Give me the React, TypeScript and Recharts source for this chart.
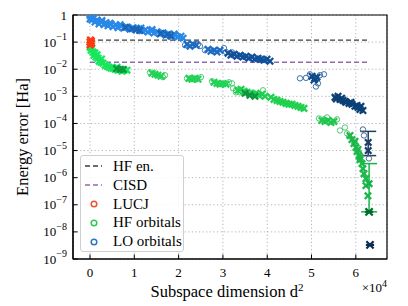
import React from 'react';
import {
  ScatterChart,
  Scatter,
  XAxis,
  YAxis,
  CartesianGrid,
  ReferenceLine,
  ReferenceArea,
  ErrorBar,
  Legend,
} from 'recharts';

type P = [number, number];

// ---------- axis data ----------
const xDomain: [number, number] = [-3840, 67040];
const xTicks = [0, 10000, 20000, 30000, 40000, 50000, 60000];
const yTicks = [1e-9, 1e-8, 1e-7, 1e-6, 1e-5, 1e-4, 1e-3, 1e-2, 1e-1, 1];

// ---------- reference energies ----------
const hfEnergyError = 0.118;
const cisdError = 0.018;
const refLineStart = 0;
const refLineEnd = 63200;

// ---------- LUCJ ----------
const lucj: P[] = [[0, 0.1], [150, 0.085], [300, 0.11], [0, 0.078], [200, 0.095], [100, 0.12], [350, 0.09]];

// ---------- LO orbitals ----------
const loBright: P[] = [
  [0, 0.95], [0, 0.72], [300, 1.0], [450, 0.65], [680, 0.84], [900, 0.78], [1130, 0.55], [1580, 0.66],
  [2030, 0.47], [2480, 0.56], [2700, 0.62], [3160, 0.44], [3610, 0.52], [4060, 0.4], [4500, 0.5],
  [4740, 0.46], [5190, 0.37], [5870, 0.43], [6320, 0.34], [6800, 0.44], [7000, 0.39], [7670, 0.33],
  [8350, 0.36], [9030, 0.3], [9700, 0.34], [10380, 0.28], [11060, 0.31], [11500, 0.33], [11740, 0.26],
  [12410, 0.28], [13090, 0.235], [13770, 0.26], [14000, 0.29], [14440, 0.215], [15120, 0.24],
  [15800, 0.2], [16480, 0.22], [17150, 0.18], [17830, 0.2], [18510, 0.166], [19000, 0.2], [19180, 0.18],
  [19860, 0.153], [20540, 0.166], [21000, 0.14],
];
const loBrightDark: P[] = [[8000, 0.35], [9500, 0.31], [10500, 0.3], [11200, 0.27], [16000, 0.21], [17500, 0.19], [18200, 0.17]];
const loMid: P[] = [
  [21900, 0.084], [22570, 0.071], [23250, 0.084], [23920, 0.077],
  [26630, 0.055], [27310, 0.046], [27990, 0.05], [28660, 0.043], [29340, 0.05],
];
const loDeep: P[] = [
  [31150, 0.039], [31820, 0.033], [32500, 0.036], [33180, 0.03], [33860, 0.033], [34530, 0.028],
  [35210, 0.03], [35890, 0.0255], [36560, 0.028], [37240, 0.0235], [37920, 0.0255], [38590, 0.0235],
  [39270, 0.0215], [39950, 0.0235], [40630, 0.0198],
];
const loMidRings: P[] = [[21440, 0.077], [24380, 0.084], [24830, 0.071], [25960, 0.05], [30240, 0.06], [30700, 0.043], [32050, 0.042]];
const loE: P[] = [[50110, 0.0055], [50780, 0.0046], [51230, 0.0051], [50560, 0.004]];
const loERings: P[] = [[47400, 0.0046], [48750, 0.0048], [49650, 0.0065], [51460, 0.003], [51910, 0.006], [52810, 0.0065], [51000, 0.0023]];
const loNavy: P[] = [
  [55300, 9.2e-4], [55980, 1.0e-3], [56430, 7.7e-4], [57100, 7.1e-4], [57550, 6.5e-4], [57780, 6.0e-4],
  [58460, 5.5e-4], [58910, 6.0e-4], [59130, 5.1e-4], [59810, 4.3e-4], [60260, 4.6e-4], [60490, 3.9e-4],
  [60940, 3.3e-4], [61160, 4.3e-4], [61610, 3.0e-4], [55600, 8.0e-4], [56800, 8.5e-4],
];
const loErrPoint = { x: 62800, y: 2.0e-5, err: [1.35e-5, 3.1e-5] };
const loErrCross: P[] = [[62800, 1.0e-5]];
const loErrRings: P[] = [[61610, 6.0e-5], [61840, 3.6e-5], [62970, 5.1e-6]];
const loFinal: P[] = [[63200, 3.3e-9]];

// ---------- HF orbitals ----------
const hfBright: P[] = [
  [0, 0.065], [230, 0.05], [400, 0.06], [680, 0.043], [900, 0.033], [1100, 0.04], [1350, 0.028],
  [1600, 0.034], [1810, 0.0255], [2030, 0.0198], [2480, 0.018], [2600, 0.024], [2930, 0.0167],
  [3390, 0.0141], [3840, 0.0129], [4290, 0.0119], [4740, 0.0109], [5190, 0.0109], [5640, 0.01],
  [6090, 0.0119], [6320, 0.0092], [7000, 0.01], [7220, 0.0084], [7670, 0.0092], [8350, 0.0092],
];
const hfBrightDark: P[] = [[6000, 0.0105], [6800, 0.0098], [7500, 0.0098]];
const hfMid: P[] = [
  [13990, 0.0071], [14670, 0.0065], [15350, 0.006], [16030, 0.0055],
  [22340, 0.0046], [23020, 0.0043], [23700, 0.0046], [24380, 0.0043],
  [27990, 0.0033], [28660, 0.003], [29340, 0.0028], [30020, 0.003], [30700, 0.0028],
];
const hfMidRings: P[] = [
  [13540, 0.0077], [16480, 0.0051], [16930, 0.006], [21890, 0.0046], [25050, 0.0051], [27540, 0.0036],
  [31370, 0.0033], [32050, 0.003], [32280, 0.00198], [32950, 0.0014],
];
const hfE: P[] = [
  [33400, 0.00167], [34080, 0.00182], [34760, 0.00153], [35430, 0.0014], [36110, 0.00129], [36790, 0.00119],
  [37470, 0.00129], [38140, 0.00109], [38820, 0.00119], [39500, 0.001],
];
const hfEDark: P[] = [[36110, 0.00109], [37240, 0.001], [35000, 0.0013]];
const hfERings: P[] = [[32950, 0.00167], [33860, 0.0014], [39050, 0.00167]];
const hfF: P[] = [
  [40850, 9.2e-4], [41530, 7.7e-4], [42210, 7.1e-4], [42880, 6.5e-4], [43560, 6.0e-4], [44240, 5.5e-4],
  [44910, 5.1e-4], [45590, 5.1e-4], [46270, 4.6e-4], [46950, 4.3e-4], [47620, 3.9e-4], [48300, 3.6e-4],
];
const hfG: P[] = [[52360, 1.29e-4], [53040, 1.19e-4], [53720, 1.29e-4], [54390, 1.09e-4], [55070, 1.19e-4]];
const hfGRings: P[] = [[51690, 1.53e-4], [55750, 1.41e-4], [53490, 1.67e-4], [52700, 1.41e-4]];
const hfH: P[] = [
  [58680, 3.6e-5], [59130, 2.55e-5], [59580, 1.82e-5], [59800, 2.2e-5], [60040, 1.29e-5], [60260, 9.2e-6],
  [60500, 1.1e-5], [60710, 6.5e-6], [60940, 4.6e-6], [61000, 5.5e-6], [61390, 3.3e-6], [61610, 2.15e-6],
  [61840, 1.41e-6], [62290, 9.2e-7], [62290, 5.1e-7], [62740, 2.15e-7],
];
const hfHRings: P[] = [[57550, 7.1e-5], [56430, 5.5e-5], [58010, 4.3e-5], [58500, 3.3e-5]];
const hfErrPoint = { x: 63000, y: 6.0e-7, err: [5.45e-7, 2.7e-6] };
const hfFinal: P[] = [[63000, 5.5e-8]];

// ---------- legend ----------
const legendLabels = ['HF en.', 'CISD', 'LUCJ', 'HF orbitals', 'LO orbitals'];

const FONT = '"Liberation Serif", "Times New Roman", serif';

const toPts = (a: P[]) => a.map(([x, y]) => ({ x, y }));

const cross = (color: string, r = 3.2, w = 2.3) => (props: any) => {
  const { cx, cy } = props;
  if (cx == null || cy == null) return <g />;
  return (
    <g>
      <line x1={cx - r} y1={cy - r} x2={cx + r} y2={cy + r} stroke={color} strokeWidth={w} />
      <line x1={cx - r} y1={cy + r} x2={cx + r} y2={cy - r} stroke={color} strokeWidth={w} />
    </g>
  );
};

const star = (color: string) => (props: any) => {
  const { cx, cy } = props;
  if (cx == null || cy == null) return <g />;
  const r = 3.6;
  return (
    <g stroke={color} strokeWidth={2.2}>
      <line x1={cx - r} y1={cy - r} x2={cx + r} y2={cy + r} />
      <line x1={cx - r} y1={cy + r} x2={cx + r} y2={cy - r} />
      <line x1={cx - r - 0.5} y1={cy} x2={cx + r + 0.5} y2={cy} />
    </g>
  );
};

const ring = (color: string) => (props: any) => {
  const { cx, cy } = props;
  if (cx == null || cy == null) return <g />;
  return <circle cx={cx} cy={cy} r={2.7} fill="none" stroke={color} strokeWidth={1} />;
};

const YTick = (props: any) => {
  const { x, y, payload } = props;
  const exp = Math.round(Math.log10(payload.value));
  return (
    <g>
      <line x1={x} y1={y} x2={x + 4.5} y2={y} stroke="#000" strokeWidth={1} />
      {exp === 0 ? (
        <text x={x - 6} y={y + 4.5} textAnchor="end" fontSize={13} fontFamily={FONT} fill="#000">1</text>
      ) : (
        <text x={x - 6} y={y + 4.5} textAnchor="end" fontSize={13} fontFamily={FONT} fill="#000">
          10<tspan dy={-6.5} fontSize={10}>{'\u2212' + -exp}</tspan>
        </text>
      )}
    </g>
  );
};

const XTick = (props: any) => {
  const { x, y, payload } = props;
  return (
    <g>
      <line x1={x} y1={y} x2={x} y2={y - 4.5} stroke="#000" strokeWidth={1} />
      <text x={x} y={y + 18} textAnchor="middle" fontSize={13} fontFamily={FONT} fill="#000">
        {Math.round(payload.value / 10000)}
      </text>
    </g>
  );
};

const XLabel = (props: any) => {
  const vb = props.viewBox || { x: 73, y: 259, width: 314, height: 47 };
  return (
    <g fontFamily={FONT} fill="#000">
      <text x={vb.x + vb.width / 2 - 3} y={vb.y + 38} textAnchor="middle" fontSize={16.5}>
        Subspace dimension d<tspan dy={-6} fontSize={11}>2</tspan>
      </text>
      <text x={vb.x + vb.width} y={vb.y + 33} textAnchor="end" fontSize={13}>
        ×10<tspan dy={-5.5} fontSize={10}>4</tspan>
      </text>
    </g>
  );
};

const YLabel = (props: any) => {
  const vb = props.viewBox || { x: 0, y: 15, width: 73, height: 244 };
  const cy = vb.y + vb.height / 2;
  return (
    <text x={28} y={cy} transform={`rotate(-90, 28, ${cy})`} textAnchor="middle" fontSize={16.5} fontFamily={FONT} fill="#000">
      Energy error [Ha]
    </text>
  );
};

const legendColors = ['#3c3c3c', '#8f6bb0', '#f2512e', '#2fc95a', '#2f73c2'];

const LegendBox = () => (
  <div
    style={{
      border: '1px solid #cfcfcf',
      borderRadius: 3,
      background: 'rgba(255,255,255,0.85)',
      width: 104,
      height: 97,
      boxSizing: 'border-box',
      fontFamily: FONT,
      fontSize: 15,
      color: '#000',
      paddingTop: 1,
    }}
  >
    {legendLabels.map((label, i) => (
      <div key={label} style={{ display: 'flex', alignItems: 'center', height: 18.8, lineHeight: '18.8px' }}>
        <svg width={32} height={12} style={{ flex: 'none' }}>
          {i < 2 ? (
            <line x1={4} y1={6} x2={21} y2={6} stroke={legendColors[i]} strokeWidth={1.4} strokeDasharray="5 3" />
          ) : (
            <circle cx={13} cy={6} r={2.8} fill="none" stroke={legendColors[i]} strokeWidth={1.5} />
          )}
        </svg>
        <span style={{ whiteSpace: 'nowrap' }}>{label}</span>
      </div>
    ))}
  </div>
);

export default function App() {
  return (
    <div style={{ position: 'absolute', left: 0, top: 0, width: 408, height: 306, background: '#fff' }}>
      <ScatterChart width={408} height={306} margin={{ top: 15, right: 21, bottom: 0, left: 0 }}>
        <CartesianGrid stroke="#b3b3b3" strokeDasharray="1.2 2.4" strokeWidth={1} />
        <XAxis
          type="number"
          dataKey="x"
          domain={xDomain}
          ticks={xTicks}
          interval={0}
          allowDataOverflow
          height={47}
          tickSize={0}
          tickMargin={0}
          tick={<XTick />}
          axisLine={{ stroke: '#000', strokeWidth: 1.2 }}
          tickLine={false}
          label={<XLabel />}
        />
        <YAxis
          type="number"
          dataKey="y"
          scale="log"
          domain={[1e-9, 1]}
          ticks={yTicks}
          interval={0}
          allowDataOverflow
          width={73}
          tickSize={0}
          tickMargin={0}
          tick={<YTick />}
          axisLine={{ stroke: '#000', strokeWidth: 1.2 }}
          tickLine={false}
          label={<YLabel />}
        />
        <ReferenceLine
          segment={[{ x: refLineStart, y: hfEnergyError }, { x: refLineEnd, y: hfEnergyError }]}
          stroke="#3c3c3c"
          strokeWidth={1.4}
          strokeDasharray="5 3"
        />
        <ReferenceLine
          segment={[{ x: refLineStart, y: cisdError }, { x: refLineEnd, y: cisdError }]}
          stroke="#8f6bb0"
          strokeWidth={1.4}
          strokeDasharray="5 3"
        />

        <Scatter data={toPts(loBright)} shape={cross('#2a88e6')} isAnimationActive={false} />
        <Scatter data={toPts(loBrightDark)} shape={cross('#1b63b4')} isAnimationActive={false} />
        <Scatter data={toPts(loMidRings)} shape={ring('#3f78bf')} isAnimationActive={false} />
        <Scatter data={toPts(loMid)} shape={cross('#1f6cc0')} isAnimationActive={false} />
        <Scatter data={toPts(loDeep)} shape={cross('#12519a')} isAnimationActive={false} />
        <Scatter data={toPts(loERings)} shape={ring('#3d6ea8')} isAnimationActive={false} />
        <Scatter data={toPts(loE)} shape={cross('#0e4a88')} isAnimationActive={false} />
        <Scatter data={toPts(loNavy)} shape={cross('#0b4076')} isAnimationActive={false} />

        <Scatter data={toPts(hfMidRings)} shape={ring('#43cf6a')} isAnimationActive={false} />
        <Scatter data={toPts(hfERings)} shape={ring('#43cf6a')} isAnimationActive={false} />
        <Scatter data={toPts(hfGRings)} shape={ring('#45c76a')} isAnimationActive={false} />
        <Scatter data={toPts(hfHRings)} shape={ring('#55c878')} isAnimationActive={false} />
        <Scatter data={toPts(hfBright)} shape={cross('#18e65c')} isAnimationActive={false} />
        <Scatter data={toPts(hfBrightDark)} shape={cross('#0c9a3e')} isAnimationActive={false} />
        <Scatter data={toPts(hfMid)} shape={cross('#22d257')} isAnimationActive={false} />
        <Scatter data={toPts(hfE)} shape={cross('#1fd050')} isAnimationActive={false} />
        <Scatter data={toPts(hfEDark)} shape={cross('#0e9440')} isAnimationActive={false} />
        <Scatter data={toPts(hfF)} shape={cross('#20d04e')} isAnimationActive={false} />
        <Scatter data={toPts(hfG)} shape={cross('#1fc84e')} isAnimationActive={false} />
        <Scatter data={toPts(hfH)} shape={cross('#1db84a')} isAnimationActive={false} />
        <Scatter data={[hfErrPoint]} shape={cross('#14b548')} isAnimationActive={false}>
          <ErrorBar dataKey="err" direction="y" width={8} stroke="#14b548" strokeWidth={1.5} />
        </Scatter>
        <Scatter data={toPts(hfFinal)} shape={star('#006b2c')} isAnimationActive={false} />

        <Scatter data={toPts(loErrRings)} shape={ring('#4a6a90')} isAnimationActive={false} />
        <Scatter data={[loErrPoint]} shape={cross('#1d3f66')} isAnimationActive={false}>
          <ErrorBar dataKey="err" direction="y" width={8} stroke="#1d3f66" strokeWidth={1.5} />
        </Scatter>
        <Scatter data={toPts(loErrCross)} shape={cross('#1d3f66')} isAnimationActive={false} />
        <Scatter data={toPts(loFinal)} shape={star('#0b2d55')} isAnimationActive={false} />

        <Scatter data={toPts(lucj)} shape={cross('#ff3a10')} isAnimationActive={false} />

        <ReferenceArea x1={xDomain[0]} x2={xDomain[1]} y1={1e-9} y2={1} fill="none" stroke="#000" strokeWidth={1.2} ifOverflow="visible" />

        <Legend
          layout="horizontal"
          verticalAlign="middle"
          align="center"
          content={() => <LegendBox />}
          wrapperStyle={{ left: 80, top: 155, width: 104, height: 97 }}
        />
      </ScatterChart>
    </div>
  );
}
